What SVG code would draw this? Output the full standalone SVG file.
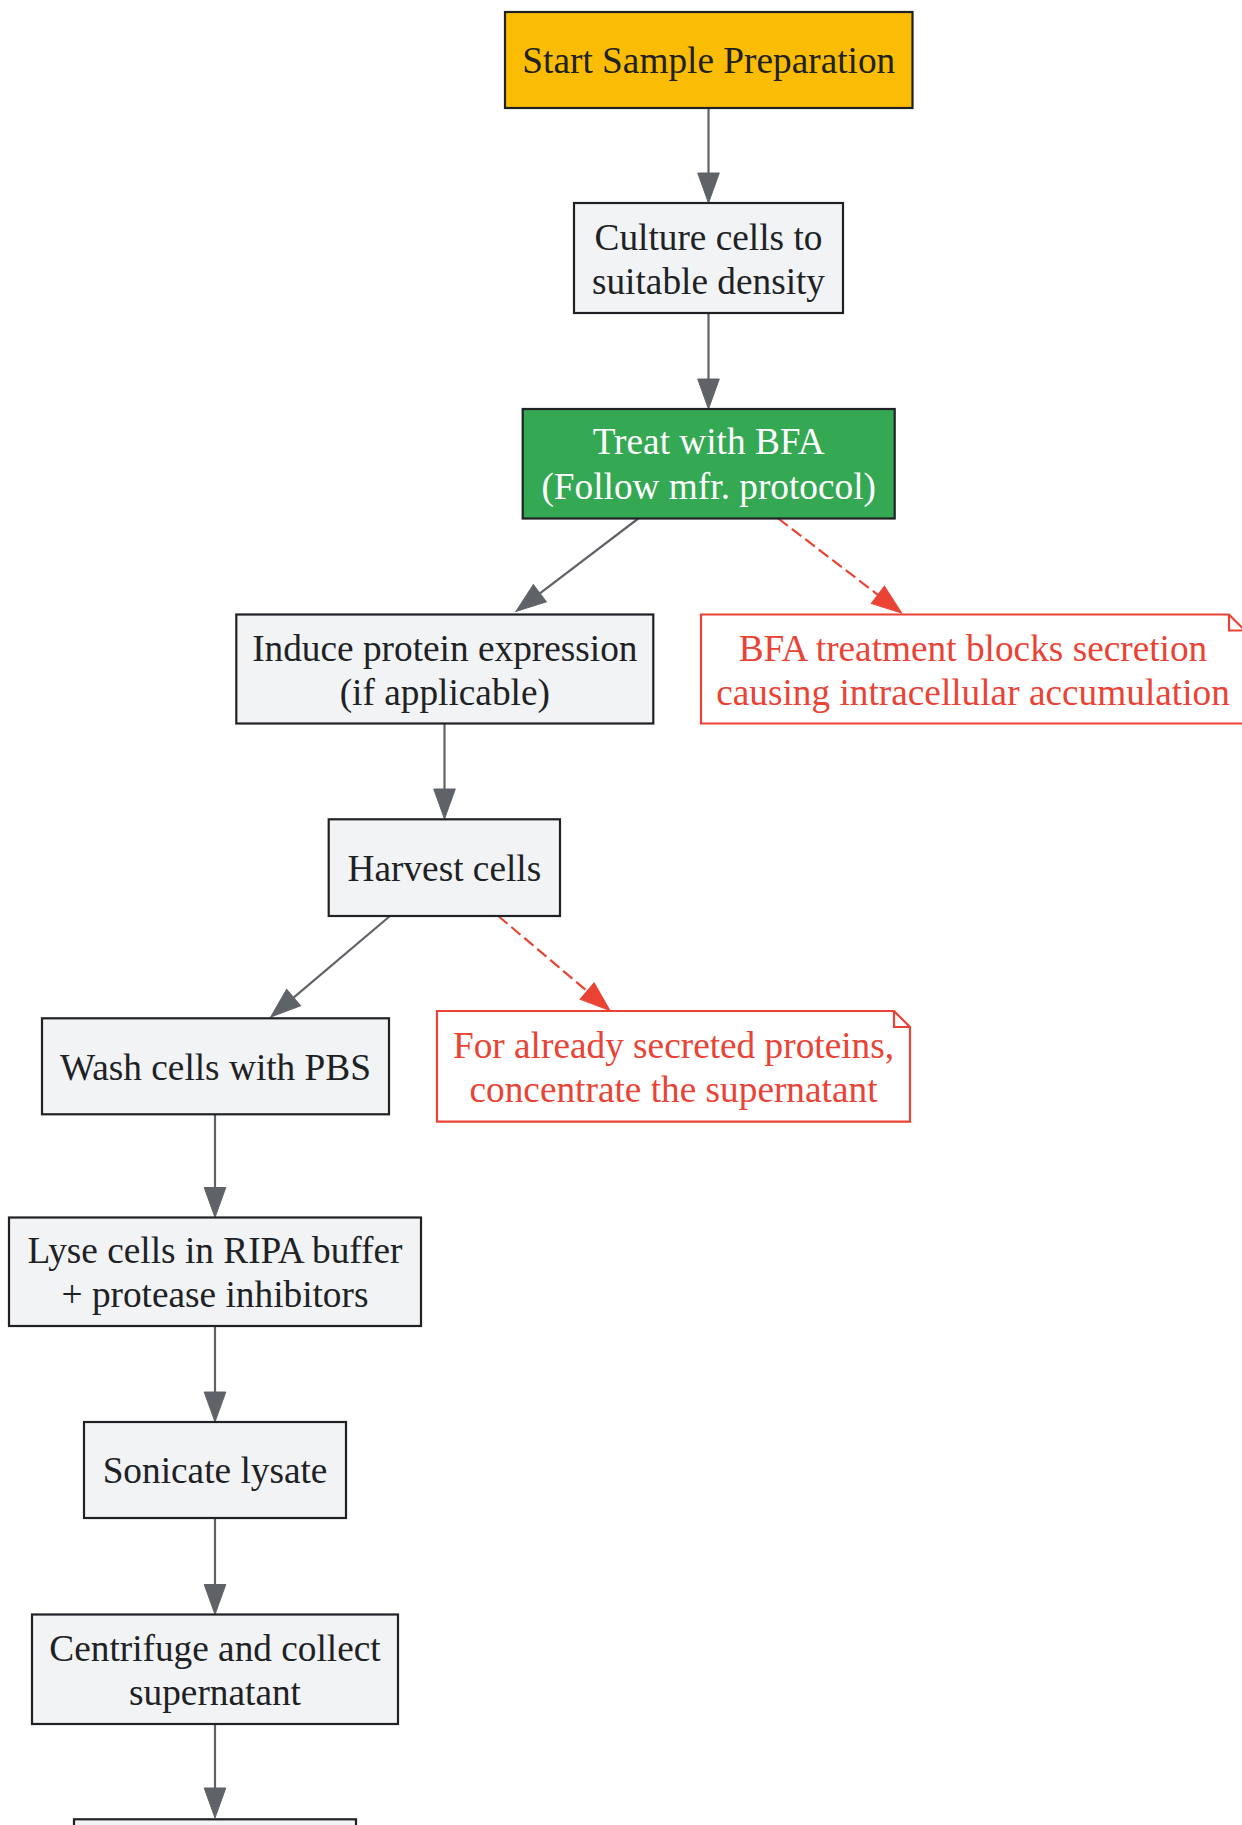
<svg xmlns="http://www.w3.org/2000/svg" width="1242" height="1825" viewBox="0 0 1242 1825">
  <style>
    text { font-family: "Liberation Serif", "Times New Roman", serif; font-size: 37.3px; text-anchor: middle; }
    .box { fill: #F1F3F4; stroke: #202124; stroke-width: 2.2; }
    .lbl { fill: #202124; }
    .start { fill: #FBBC04; stroke: #202124; stroke-width: 2.2; }
    .treat { fill: #34A853; stroke: #202124; stroke-width: 2.2; }
    .white { fill: #FFFFFF; }
    .note { fill: #FFFFFF; stroke: #EA4335; stroke-width: 2.2; }
    .notefold { fill: none; stroke: #EA4335; stroke-width: 2.2; }
    .ntext { fill: #EA4335; }
    .edge { fill: none; stroke: #5F6368; stroke-width: 2.2; }
    .dash { fill: none; stroke: #EA4335; stroke-width: 2.2; stroke-dasharray: 12 5; }
  </style>
  <defs>
    <marker id="arrGray" markerUnits="userSpaceOnUse" markerWidth="32" markerHeight="24" refX="0" refY="10.8" orient="auto" overflow="visible">
      <path d="M0,0 L30,10.8 L0,21.6 Z" fill="#5F6368" stroke="#5F6368" stroke-width="1"/>
    </marker>
    <marker id="arrRed" markerUnits="userSpaceOnUse" markerWidth="32" markerHeight="24" refX="0" refY="10.8" orient="auto" overflow="visible">
      <path d="M0,0 L30,10.8 L0,21.6 Z" fill="#EA4335" stroke="#EA4335" stroke-width="1"/>
    </marker>
  </defs>
  <rect x="0" y="0" width="1242" height="1825" fill="#FFFFFF"/>

  <g id="connectors">
    <line class="edge" x1="708.5" y1="108" x2="708.5" y2="173" marker-end="url(#arrGray)"/>
    <line class="edge" x1="708.5" y1="313" x2="708.5" y2="379" marker-end="url(#arrGray)"/>
    <line class="edge" x1="638.3" y1="518.5" x2="539.9" y2="593.3" marker-end="url(#arrGray)"/>
    <line class="dash" x1="778.3" y1="518.5" x2="877.9" y2="594.8" marker-end="url(#arrRed)"/>
    <line class="edge" x1="444.5" y1="723.5" x2="444.5" y2="789" marker-end="url(#arrGray)"/>
    <line class="edge" x1="390" y1="916" x2="293.6" y2="997.6" marker-end="url(#arrGray)"/>
    <line class="dash" x1="498.3" y1="916" x2="587.1" y2="991.1" marker-end="url(#arrRed)"/>
    <line class="edge" x1="215" y1="1114.3" x2="215" y2="1187.5" marker-end="url(#arrGray)"/>
    <line class="edge" x1="215" y1="1326" x2="215" y2="1392" marker-end="url(#arrGray)"/>
    <line class="edge" x1="215" y1="1518" x2="215" y2="1584.5" marker-end="url(#arrGray)"/>
    <line class="edge" x1="215" y1="1724" x2="215" y2="1788" marker-end="url(#arrGray)"/>
  </g>

  <g id="start">
    <rect class="start" x="505" y="12" width="407.5" height="96"/>
    <text class="lbl" x="708.8" y="72.7">Start Sample Preparation</text>
  </g>

  <g id="culture">
    <rect class="box" x="574" y="203" width="269" height="110"/>
    <text class="lbl" x="708.5" y="250">Culture cells to</text>
    <text class="lbl" x="708.5" y="293.5">suitable density</text>
  </g>

  <g id="treat">
    <rect class="treat" x="522.7" y="409" width="372" height="109.5"/>
    <text class="white" x="708.7" y="454">Treat with BFA</text>
    <text class="white" x="708.7" y="498.5">(Follow mfr. protocol)</text>
  </g>

  <g id="induce">
    <rect class="box" x="236.3" y="614.5" width="417" height="109"/>
    <text class="lbl" x="444.8" y="661">Induce protein expression</text>
    <text class="lbl" x="444.8" y="705">(if applicable)</text>
  </g>

  <g id="note_bfa">
    <path class="note" d="M701,614.5 L1229,614.5 L1245,630.5 L1245,723.5 L701,723.5 Z"/>
    <path class="notefold" d="M1229,614.5 L1229,630.5 L1245,630.5"/>
    <text class="ntext" x="973" y="661">BFA treatment blocks secretion</text>
    <text class="ntext" x="973" y="705">causing intracellular accumulation</text>
  </g>

  <g id="harvest">
    <rect class="box" x="328.7" y="819.3" width="231.3" height="96.7"/>
    <text class="lbl" x="444.4" y="881">Harvest cells</text>
  </g>

  <g id="note_supernatant">
    <path class="note" d="M437,1011 L894,1011 L910,1027 L910,1121.7 L437,1121.7 Z"/>
    <path class="notefold" d="M894,1011 L894,1027 L910,1027"/>
    <text class="ntext" x="673.5" y="1057.7">For already secreted proteins,</text>
    <text class="ntext" x="673.5" y="1101.7">concentrate the supernatant</text>
  </g>

  <g id="wash">
    <rect class="box" x="42" y="1018.3" width="347" height="96"/>
    <text class="lbl" x="215.5" y="1079.5">Wash cells with PBS</text>
  </g>

  <g id="lyse">
    <rect class="box" x="9" y="1217.5" width="412" height="108.5"/>
    <text class="lbl" x="215" y="1263">Lyse cells in RIPA buffer</text>
    <text class="lbl" x="215" y="1307">+ protease inhibitors</text>
  </g>

  <g id="sonicate">
    <rect class="box" x="84" y="1422" width="262" height="96"/>
    <text class="lbl" x="215" y="1483">Sonicate lysate</text>
  </g>

  <g id="centrifuge">
    <rect class="box" x="32" y="1614.5" width="366" height="109.5"/>
    <text class="lbl" x="215" y="1660.5">Centrifuge and collect</text>
    <text class="lbl" x="215" y="1704.5">supernatant</text>
  </g>

  <g id="next_step">
    <rect class="box" x="74" y="1819.3" width="282" height="96"/>
  </g>
</svg>
